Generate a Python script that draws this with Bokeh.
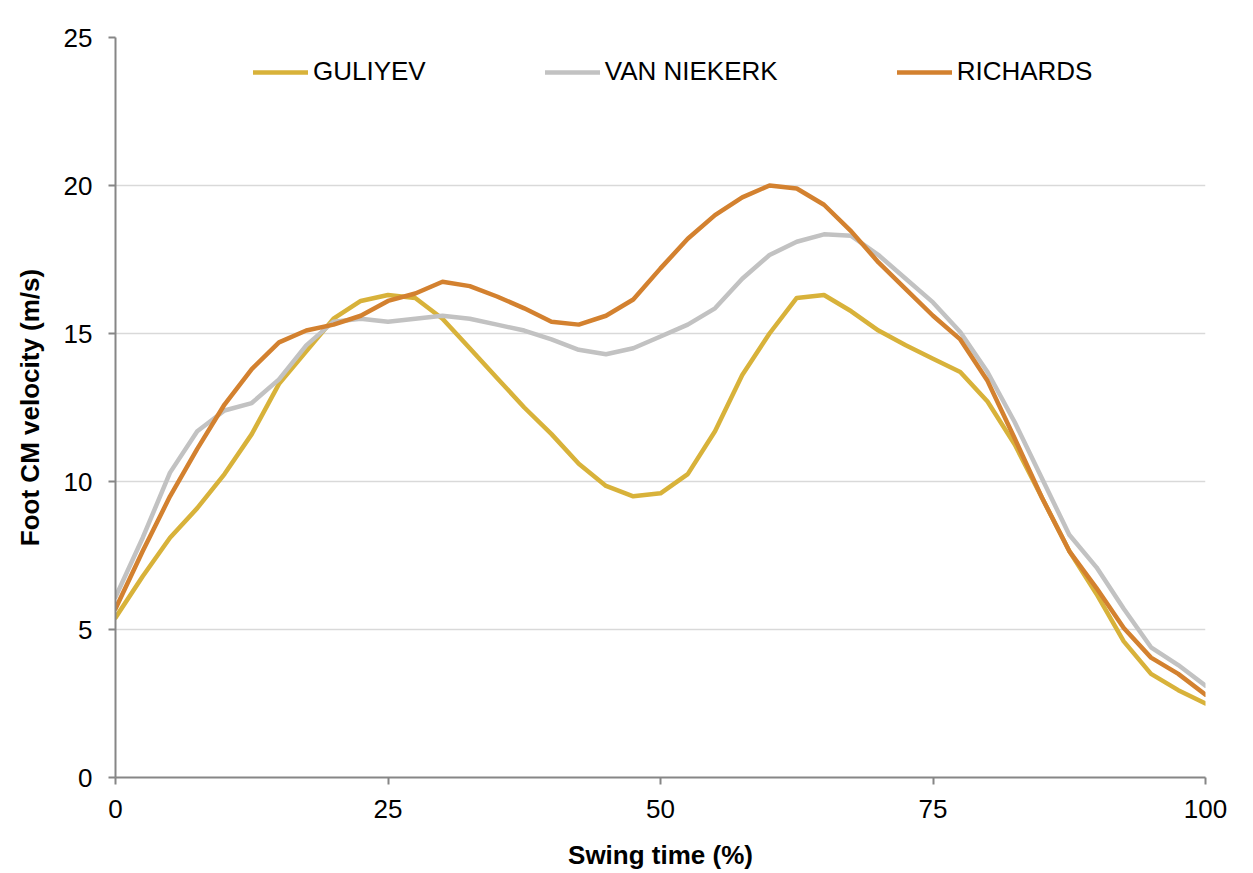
from bokeh.plotting import figure
from bokeh.models import Range1d, FixedTicker, Legend, LegendItem
from bokeh.embed import file_html
from bokeh.resources import INLINE

swing_time = [0, 2.5, 5, 7.5, 10, 12.5, 15, 17.5, 20, 22.5, 25, 27.5, 30, 32.5, 35, 37.5,
              40, 42.5, 45, 47.5, 50, 52.5, 55, 57.5, 60, 62.5, 65, 67.5, 70, 72.5, 75,
              77.5, 80, 82.5, 85, 87.5, 90, 92.5, 95, 97.5, 100]

guliyev = [5.4, 6.8, 8.1, 9.1, 10.25, 11.6, 13.3, 14.4, 15.5, 16.1, 16.3, 16.2, 15.5, 14.5,
           13.5, 12.5, 11.6, 10.6, 9.85, 9.5, 9.6, 10.25, 11.7, 13.6, 15.0, 16.2, 16.3,
           15.75, 15.1, 14.6, 14.15, 13.7, 12.7, 11.25, 9.45, 7.65, 6.2, 4.6, 3.5, 2.95, 2.5]

van_niekerk = [6.1, 8.1, 10.3, 11.7, 12.4, 12.65, 13.45, 14.6, 15.4, 15.5, 15.4, 15.5, 15.6,
               15.5, 15.3, 15.1, 14.8, 14.45, 14.3, 14.5, 14.9, 15.3, 15.85, 16.85, 17.65,
               18.1, 18.35, 18.3, 17.65, 16.85, 16.05, 15.05, 13.7, 12.0, 10.1, 8.2, 7.1,
               5.7, 4.4, 3.8, 3.1]

richards = [5.7, 7.65, 9.5, 11.1, 12.6, 13.8, 14.7, 15.1, 15.3, 15.6, 16.1, 16.35, 16.75,
            16.6, 16.25, 15.85, 15.4, 15.3, 15.6, 16.15, 17.2, 18.2, 19.0, 19.6, 20.0, 19.9,
            19.35, 18.45, 17.4, 16.5, 15.6, 14.8, 13.4, 11.45, 9.45, 7.65, 6.4, 5.05, 4.05,
            3.5, 2.8]

series_names = ["GULIYEV", "VAN NIEKERK", "RICHARDS"]
series_colors = ["#D8B23A", "#C2C2C2", "#D3812F"]
x_ticks = [0, 25, 50, 75, 100]
y_ticks = [0, 5, 10, 15, 20, 25]

FONT = "Liberation Sans"

p = figure(width=1245, height=872, output_backend="svg", toolbar_location=None,
           x_range=Range1d(0, 100), y_range=Range1d(0, 25),
           min_border_left=115, min_border_right=40, min_border_top=37, min_border_bottom=95)
p.outline_line_color = None
p.background_fill_color = "white"
p.border_fill_color = "white"

items = []
for name, color, ys in zip(series_names, series_colors, [guliyev, van_niekerk, richards]):
    r = p.line(swing_time, ys, line_color=color, line_width=4.5, line_join="round", line_cap="round")
    items.append(LegendItem(label=name, renderers=[r]))

legend = Legend(items=items, orientation="horizontal", location=(138, 690),
                padding=0, margin=0, spacing=119, glyph_width=55, glyph_height=30,
                label_height=30, label_standoff=5,
                label_text_font=FONT, label_text_font_size="26px", label_text_color="black",
                border_line_color=None, background_fill_alpha=0)
p.add_layout(legend)

for ax in (p.xaxis[0], p.yaxis[0]):
    ax.axis_line_color = "#868686"
    ax.axis_line_width = 2
    ax.major_tick_line_color = "#868686"
    ax.major_tick_line_width = 2
    ax.major_tick_out = 7
    ax.major_tick_in = 0
    ax.minor_tick_line_color = None
    ax.major_label_text_font = FONT
    ax.major_label_text_font_size = "26px"
    ax.major_label_text_color = "black"
    ax.axis_label_text_font = FONT
    ax.axis_label_text_font_size = "26px"
    ax.axis_label_text_font_style = "bold"
    ax.axis_label_text_color = "black"

p.xaxis.ticker = FixedTicker(ticks=x_ticks)
p.yaxis.ticker = FixedTicker(ticks=y_ticks)
p.xaxis.axis_label = "Swing time (%)"
p.yaxis.axis_label = "Foot CM velocity (m/s)"
p.xaxis.major_label_standoff = 15
p.yaxis.major_label_standoff = 16
p.xaxis.axis_label_standoff = 19
p.yaxis.axis_label_standoff = 16

p.xgrid.grid_line_color = None
p.ygrid.grid_line_color = "#D9D9D9"
p.ygrid.grid_line_width = 1.5

open("out.html", "w").write(file_html(p, INLINE))
